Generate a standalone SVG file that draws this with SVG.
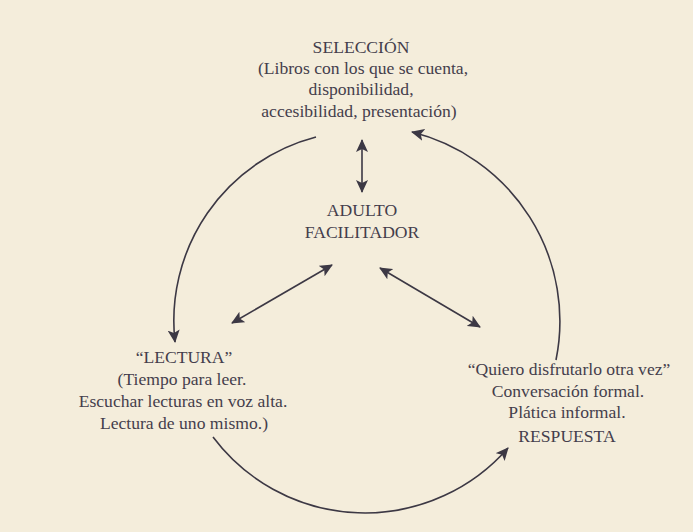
<svg xmlns="http://www.w3.org/2000/svg" width="693" height="532" viewBox="0 0 693 532">
<defs>
<style>
.t{font-family:"Liberation Serif","Times New Roman",serif;font-size:17.6px;fill:#443e4c;text-anchor:middle}
.c{fill:none;stroke:#3c3844;stroke-width:1.6}
</style>
<marker id="ah" viewBox="0 0 13 12" refX="12" refY="6" markerWidth="13" markerHeight="12" markerUnits="userSpaceOnUse" orient="auto-start-reverse">
<path d="M0,0 L13,6 L0,12 L3,6 z" fill="#3c3844"/>
</marker>
</defs>
<rect width="693" height="532" fill="#f4eddb"/>
<g id="seleccion">
<text class="t" x="361" y="53">SELECCIÓN</text>
<text class="t" x="363" y="74">(Libros con los que se cuenta,</text>
<text class="t" x="361" y="95">disponibilidad,</text>
<text class="t" x="359" y="117">accesibilidad, presentación)</text>
</g>
<g id="adulto">
<text class="t" x="362" y="216">ADULTO</text>
<text class="t" x="362" y="238">FACILITADOR</text>
</g>
<g id="lectura">
<text class="t" x="184" y="363">“LECTURA”</text>
<text class="t" x="182" y="385">(Tiempo para leer.</text>
<text class="t" x="183" y="407">Escuchar lecturas en voz alta.</text>
<text class="t" x="184" y="429">Lectura de uno mismo.)</text>
</g>
<g id="respuesta">
<text class="t" x="569" y="375">“Quiero disfrutarlo otra vez”</text>
<text class="t" x="568" y="397">Conversación formal.</text>
<text class="t" x="567" y="418">Plática informal.</text>
<text class="t" x="567" y="442">RESPUESTA</text>
</g>
<g id="connectors">
<path class="c" d="M316,137 A190,190 0 0 0 175,342" marker-end="url(#ah)"/>
<path class="c" d="M556,360 A195,195 0 0 0 412,132" marker-end="url(#ah)"/>
<path class="c" d="M213,437 A190,190 0 0 0 508,448" marker-end="url(#ah)"/>
<line class="c" x1="362" y1="140" x2="362" y2="192" marker-start="url(#ah)" marker-end="url(#ah)"/>
<line class="c" x1="332" y1="265" x2="232" y2="323" marker-start="url(#ah)" marker-end="url(#ah)"/>
<line class="c" x1="380" y1="268" x2="480" y2="327" marker-start="url(#ah)" marker-end="url(#ah)"/>
</g>
</svg>
